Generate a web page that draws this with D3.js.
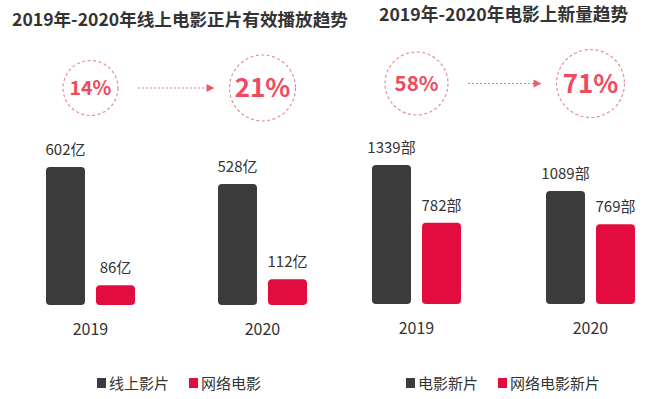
<!DOCTYPE html>
<html><head><meta charset="utf-8">
<script src="https://cdn.jsdelivr.net/npm/d3@7"></script>
<style>
html,body{margin:0;padding:0;background:#fff;}
svg{display:block;font-family:"Noto Sans CJK SC","Noto Sans",sans-serif;}
</style></head>
<body><svg id="c" width="654" height="399"></svg>
<script>
// ---- data ----
const years = ["2019", "2020"];

const leftTitle = "2019年-2020年线上电影正片有效播放趋势";
const leftSeries = ["线上影片", "网络电影"];
const leftOnlinePlays = [602, 528];
const leftWebPlays = [86, 112];
const leftUnit = "亿";
const leftRates = ["14%", "21%"];

const rightTitle = "2019年-2020年电影上新量趋势";
const rightSeries = ["电影新片", "网络电影新片"];
const rightNewFilms = [1339, 1089];
const rightWebNewFilms = [782, 769];
const rightUnit = "部";
const rightRates = ["58%", "71%"];

// ---- styles ----
const DARK = "#3b3b3b", RED = "#e30c3e", PINK = "#f04a5e", DASH = "#e68c9c", TEXT = "#333";
const svg = d3.select("#c");

function panel(cfg) {
  const g = svg.append("g");
  const x = d3.scalePoint().domain(years).range(cfg.xRange);
  const inner = d3.scaleBand().domain(cfg.series).range([-44.5, 44.5]).paddingInner(0.22);
  const y = d3.scaleLinear().domain([0, cfg.max]).range([cfg.base, cfg.top]);

  g.append("text").attr("x", cfg.titleX).attr("y", cfg.titleY)
    .attr("font-size", cfg.titleSize).attr("font-weight", "bold").attr("fill", "#333")
    .text(cfg.title);

  const rows = [];
  years.forEach((yr, i) => {
    cfg.values.forEach((vals, s) => rows.push({yr, s, name: cfg.series[s], v: vals[i]}));
  });

  g.selectAll("rect.bar").data(rows).join("rect").attr("class", "bar")
    .attr("x", d => x(d.yr) + inner(d.name))
    .attr("width", inner.bandwidth())
    .attr("y", d => y(d.v))
    .attr("height", d => y(0) - y(d.v))
    .attr("rx", 4).attr("ry", 4)
    .attr("fill", d => d.s === 0 ? DARK : RED);

  g.selectAll("text.val").data(rows).join("text").attr("class", "val")
    .attr("x", d => x(d.yr) + inner(d.name) + inner.bandwidth() / 2)
    .attr("y", d => y(d.v) - 12)
    .attr("text-anchor", "middle").attr("font-size", 15).attr("fill", TEXT)
    .text(d => d.v + cfg.unit);

  g.selectAll("text.yr").data(years).join("text").attr("class", "yr")
    .attr("x", d => x(d)).attr("y", cfg.base + 30)
    .attr("text-anchor", "middle").attr("font-size", 16).attr("fill", TEXT)
    .text(d => d);

  // rate circles
  years.forEach((yr, i) => {
    const cx = x(yr), r = cfg.radii[i];
    g.append("circle").attr("cx", cx).attr("cy", cfg.cy).attr("r", r)
      .attr("fill", "none").attr("stroke", DASH).attr("stroke-width", 1.2)
      .attr("stroke-dasharray", "3,2.5");
    g.append("text").attr("x", cx).attr("y", cfg.cy).attr("dy", "0.36em")
      .attr("text-anchor", "middle").attr("font-size", cfg.rateSizes[i])
      .attr("font-weight", "bold").attr("fill", PINK).text(cfg.rates[i]);
  });
  const x1 = x(years[0]) + cfg.radii[0] + 20, x2 = x(years[1]) - cfg.radii[1] - 15;
  g.append("line").attr("x1", x1).attr("x2", x2 - 6).attr("y1", cfg.cy).attr("y2", cfg.cy)
    .attr("stroke", "#ea7d8f").attr("stroke-width", 1.2).attr("stroke-dasharray", "2,2");
  g.append("path").attr("d", `M${x2},${cfg.cy}L${x2 - 8},${cfg.cy - 4}L${x2 - 8},${cfg.cy + 4}Z`)
    .attr("fill", "#ea5a70");

  // legend
  let lx = cfg.legendX;
  cfg.series.forEach((name, s) => {
    g.append("rect").attr("x", lx).attr("y", 378).attr("width", 9).attr("height", 10)
      .attr("fill", s === 0 ? DARK : RED);
    const t = g.append("text").attr("x", lx + 12).attr("y", 388.5)
      .attr("font-size", 15).attr("fill", TEXT).text(name);
    lx += 12 + t.node().getComputedTextLength() + 20;
  });
}

panel({
  title: leftTitle, titleX: 12, titleY: 26, titleSize: 17.6,
  series: leftSeries, values: [leftOnlinePlays, leftWebPlays], unit: leftUnit,
  rates: leftRates, radii: [27.5, 33], rateSizes: [19.5, 26], cy: 88,
  xRange: [90.5, 262.5], max: 602, base: 305, top: 167, legendX: 97
});
panel({
  title: rightTitle, titleX: 379, titleY: 21, titleSize: 17.7,
  series: rightSeries, values: [rightNewFilms, rightWebNewFilms], unit: rightUnit,
  rates: rightRates, radii: [31.5, 34], rateSizes: [20.5, 26], cy: 83.5,
  xRange: [416.5, 590.5], max: 1339, base: 304, top: 165, legendX: 406
});
</script></body></html>
